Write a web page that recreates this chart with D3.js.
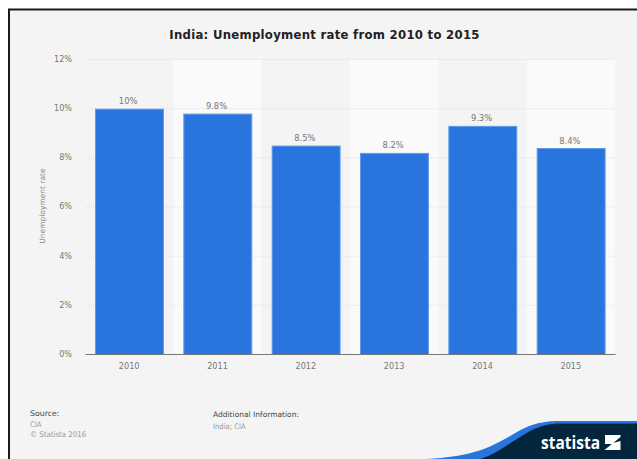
<!DOCTYPE html>
<html>
<head>
<meta charset="utf-8">
<script src="https://cdn.jsdelivr.net/npm/d3@7"></script>
<style>
html,body{margin:0;padding:0;background:#fff;}
svg{display:block;font-family:"DejaVu Sans",sans-serif;}
</style>
</head>
<body>
<div id="chart"></div>
<script>
const years = ["2010","2011","2012","2013","2014","2015"];
const rates = [10, 9.8, 8.5, 8.2, 9.3, 8.4];
const rateLabels = ["10%","9.8%","8.5%","8.2%","9.3%","8.4%"];
const yTicks = [0, 2, 4, 6, 8, 10, 12];

const width = 637, height = 459;
const condensed = "'DejaVu Sans Condensed','DejaVu Sans',sans-serif";
const svg = d3.select("#chart").append("svg").attr("width", width).attr("height", height);

// Card with its dark top and left edge
svg.append("rect").attr("x", 8).attr("y", 9).attr("width", width - 8).attr("height", height - 9).attr("fill", "#f4f4f4");
svg.append("path").attr("d", d3.line()([[9, height], [9, 9.5], [width, 9.5]]))
  .attr("fill", "none").attr("stroke", "#1a1a1a").attr("stroke-width", 2);

svg.append("text").attr("x", 324.5).attr("y", 39).attr("text-anchor", "middle")
  .attr("font-family", condensed).attr("font-size", 13).attr("font-weight", "bold").attr("fill", "#222")
  .attr("letter-spacing", 0.27).text("India: Unemployment rate from 2010 to 2015");

const x = d3.scaleBand().domain(years).range([85, 615]).paddingInner(0).paddingOuter(0);
const y = d3.scaleLinear().domain([0, 12]).range([354.5, 59.5]);
const barInset = 10;

// Alternating column shading
svg.append("g").selectAll("rect").data(years.filter((d, i) => i % 2 === 1)).join("rect")
  .attr("x", d => x(d)).attr("y", y(12)).attr("width", x.bandwidth()).attr("height", y(0) - y(12))
  .attr("fill", "#fafafa");

// Gridlines and value axis
svg.append("g").selectAll("line").data(yTicks.filter(d => d > 0)).join("line")
  .attr("x1", 85).attr("x2", 615).attr("y1", d => y(d)).attr("y2", d => y(d))
  .attr("stroke", "#e2e2e2").attr("stroke-width", 1).attr("stroke-dasharray", "1 1");

const yAxis = d3.axisLeft(y).tickValues(yTicks).tickFormat(d => d + "%").tickSize(0).tickPadding(13);
const yG = svg.append("g").attr("transform", "translate(85,-1)").call(yAxis);
yG.select(".domain").remove();
yG.selectAll("text").attr("font-size", 9).attr("fill", "#777").attr("font-family", condensed);

svg.append("text").attr("transform", "translate(45,206) rotate(-90)").attr("text-anchor", "middle")
  .attr("font-size", 7.5).attr("fill", "#8a8a8a").text("Unemployment rate");

// Bars with a pale outline
svg.append("g").selectAll("rect").data(rates).join("rect")
  .attr("x", (d, i) => x(years[i]) + barInset + 0.5).attr("y", d => y(d) + 0.5)
  .attr("width", x.bandwidth() - 2 * barInset - 0.4).attr("height", d => y(0) - y(d) - 0.5)
  .attr("fill", "#2a75dd").attr("stroke", "#5f9be9").attr("stroke-width", 1);

svg.append("g").selectAll("text").data(rates).join("text")
  .attr("x", (d, i) => x(years[i]) + x.bandwidth() / 2 - 1).attr("y", d => y(d) - 4.5)
  .attr("text-anchor", "middle").attr("font-family", condensed).attr("font-size", 9.3).attr("fill", "#777")
  .text((d, i) => rateLabels[i]);

// Category axis
const xAxis = d3.axisBottom(x).tickSize(0).tickPadding(9);
const xG = svg.append("g").attr("transform", "translate(0,354)").call(xAxis);
xG.select(".domain").attr("stroke", "#777").attr("stroke-width", 1.2);
xG.selectAll("text").attr("font-size", 9).attr("fill", "#777").attr("font-family", condensed);

// Footer notes
const note = (tx, ty, s, fill, fam, size) => svg.append("text").attr("x", tx).attr("y", ty)
  .attr("font-family", fam).attr("font-size", size).attr("fill", fill).text(s);
note(30, 416, "Source:", "#444", "'DejaVu Sans',sans-serif", 7.8);
note(30, 427, "CIA", "#999", condensed, 7.6);
note(30, 437, "© Statista 2016", "#999", condensed, 7.8);
note(213, 417, "Additional Information:", "#444", "'DejaVu Sans',sans-serif", 7.5);
note(213, 429, "India; CIA", "#999", condensed, 7.6);

// Brand swoosh in the lower right corner
svg.append("path")
  .attr("d", "M427,459 C465,457 485,450 503,440 C520,431 530,421 560,421 L637,421 L637,459 Z")
  .attr("fill", "#2a75dd");
svg.append("path")
  .attr("d", "M480,459 C495,455 505,446 517,439 C530,431 540,423.5 562,423.5 L637,423.5 L637,459 Z")
  .attr("fill", "#03263f");
svg.append("text").attr("x", 541).attr("y", 449).attr("font-size", 18).attr("font-weight", "bold")
  .attr("font-family", "'Open Sans',sans-serif").attr("fill", "#fff")
  .attr("textLength", 59).attr("lengthAdjust", "spacingAndGlyphs").text("statista");
svg.append("path").attr("d", "M605,435 H620.5 V437 L612,444 H605 Z M620.5,441 V450 H604.5 L613,443 Z").attr("fill", "#fff");
</script>
</body>
</html>
